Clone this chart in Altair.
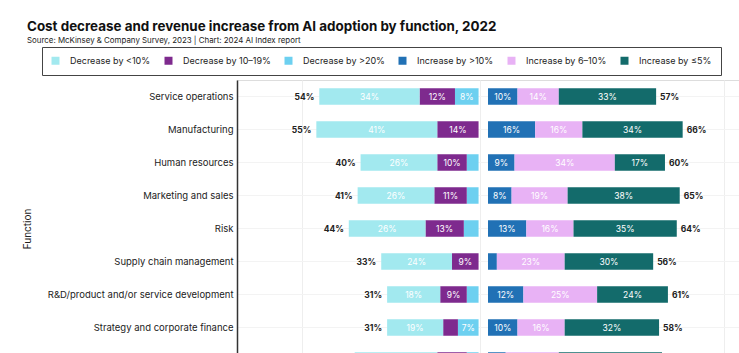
import altair as alt
import pandas as pd

functions = [
    "Service operations",
    "Manufacturing",
    "Human resources",
    "Marketing and sales",
    "Risk",
    "Supply chain management",
    "R&D/product and/or service development",
    "Strategy and corporate finance",
    "Average across all functions",
]
dec_lt10 = [34, 41, 26, 26, 26, 24, 18, 19, 28]
dec_10_19 = [12, 14, 10, 11, 13, 9, 9, 5, 10]
dec_gt20 = [8, 0, 4, 4, 5, 0, 4, 7, 4]
inc_gt10 = [10, 16, 9, 8, 13, 3, 12, 10, 6]
inc_6_10 = [14, 16, 34, 19, 16, 23, 25, 16, 18]
inc_le5 = [33, 34, 17, 38, 35, 30, 24, 32, 35]
dec_total = [54, 55, 40, 41, 44, 33, 31, 31, 42]
inc_total = [57, 66, 60, 65, 64, 56, 61, 58, 59]

categories = [
    "Decrease by <10%",
    "Decrease by 10–19%",
    "Decrease by >20%",
    "Increase by >10%",
    "Increase by 6–10%",
    "Increase by ≤5%",
]
colors = ["#A2E9EF", "#7E2A8E", "#6DD0F0", "#2171B5", "#E8B2F5", "#136B6B"]

FONT = "Inter"
G = 1.6  # half gap between the two sides, in % units
N_SHOWN = 8  # the last row is cut off by the bottom edge of the picture

rows = []
for i, f in enumerate(functions):
    start = 0
    for cat, vals in [("Decrease by >20%", dec_gt20), ("Decrease by 10–19%", dec_10_19), ("Decrease by <10%", dec_lt10)]:
        v = vals[i]
        rows.append(dict(function=f, row=i, category=cat, value=v,
                         x=-(G + start), x2=-(G + start + v), mid=-(G + start + v / 2)))
        start += v
    start = 0
    for cat, vals in [("Increase by >10%", inc_gt10), ("Increase by 6–10%", inc_6_10), ("Increase by ≤5%", inc_le5)]:
        v = vals[i]
        rows.append(dict(function=f, row=i, category=cat, value=v,
                         x=G + start, x2=G + start + v, mid=G + start + v / 2))
        start += v
seg = pd.DataFrame(rows)
seg["label"] = seg["value"].astype(str) + "%"
seg_lab = seg[(seg["value"] >= 7) & (seg["row"] < N_SHOWN)]

left_tot = pd.DataFrame(dict(function=functions, pos=[-(G + t) for t in dec_total],
                             label=[f"{t}%" for t in dec_total])).iloc[:N_SHOWN]
right_tot = pd.DataFrame(dict(function=functions, pos=[G + t for t in inc_total],
                              label=[f"{t}%" for t in inc_total])).iloc[:N_SHOWN]

xscale = alt.Scale(domain=[-83.5, 86.7], nice=False, zero=False)
yscale = alt.Scale(domain=functions, paddingInner=0.5, paddingOuter=0.25)

xaxis = alt.Axis(values=[-61.6, -1.0, 81.6], labels=False, ticks=False, domain=False,
                 title=None, grid=True, gridColor="#EEEEEE", gridWidth=1)
yaxis = alt.Axis(title="Function", titleX=-205, titleFontSize=10, titleFontWeight="normal",
                 titleColor="#222", labelFontSize=9.5, labelColor="#222", labelPadding=4,
                 labelLimit=400, ticks=False, domainColor="#333", domainWidth=1.5, grid=True,
                 gridColor="#F3F3F3", bandPosition=0.5,
                 labelExpr=f"indexof({functions!r}, datum.value) < {N_SHOWN} ? datum.label : ''")

bars = alt.Chart(seg).mark_bar().encode(
    x=alt.X("x:Q", scale=xscale, axis=xaxis),
    x2="x2:Q",
    y=alt.Y("function:N", scale=yscale, axis=yaxis, sort=functions),
    color=alt.Color(
        "category:N",
        scale=alt.Scale(domain=categories, range=colors),
        legend=alt.Legend(
            title=None, orient="none", direction="horizontal", legendX=-195, legendY=-33,
            symbolType="square", symbolSize=64, symbolStrokeWidth=0, labelFontSize=9,
            labelFont=FONT, labelColor="#222", labelOffset=10, columnPadding=13,
            padding=9, strokeColor="#444",
        ),
    ),
)

seg_text = alt.Chart(seg_lab).mark_text(color="white", fontSize=8.5, font=FONT).encode(
    x=alt.X("mid:Q", scale=xscale),
    y=alt.Y("function:N", scale=yscale, sort=functions),
    text="label:N",
)

lt = alt.Chart(left_tot).mark_text(align="right", dx=-5, fontSize=8.5, fontWeight="bold",
                                   color="#222", font=FONT).encode(
    x=alt.X("pos:Q", scale=xscale),
    y=alt.Y("function:N", scale=yscale, sort=functions),
    text="label:N",
)
rt = alt.Chart(right_tot).mark_text(align="left", dx=4, fontSize=8.5, fontWeight="bold",
                                    color="#222", font=FONT).encode(
    x=alt.X("pos:Q", scale=xscale),
    y=alt.Y("function:N", scale=yscale, sort=functions),
    text="label:N",
)

chart = alt.layer(bars, seg_text, lt, rt).properties(
    width=502,
    height=297,
    autosize=alt.AutoSizeParams(type="none"),
    padding={"left": 237, "top": 80, "right": 0, "bottom": 0},
    background="white",
    title=alt.TitleParams(
        text="Cost decrease and revenue increase from AI adoption by function, 2022",
        subtitle="Source: McKinsey & Company Survey, 2023 | Chart: 2024 AI Index report",
        anchor="start", frame="group", dx=-210, dy=8, font=FONT, fontSize=13.4,
        fontWeight="bold", color="#111", subtitleFont=FONT, subtitleFontSize=7.9,
        subtitleColor="#222", subtitlePadding=3, offset=10,
    ),
).configure_view(stroke=None).configure(font=FONT)

chart.save("out.html", embed_options={"renderer": "svg", "actions": False})
